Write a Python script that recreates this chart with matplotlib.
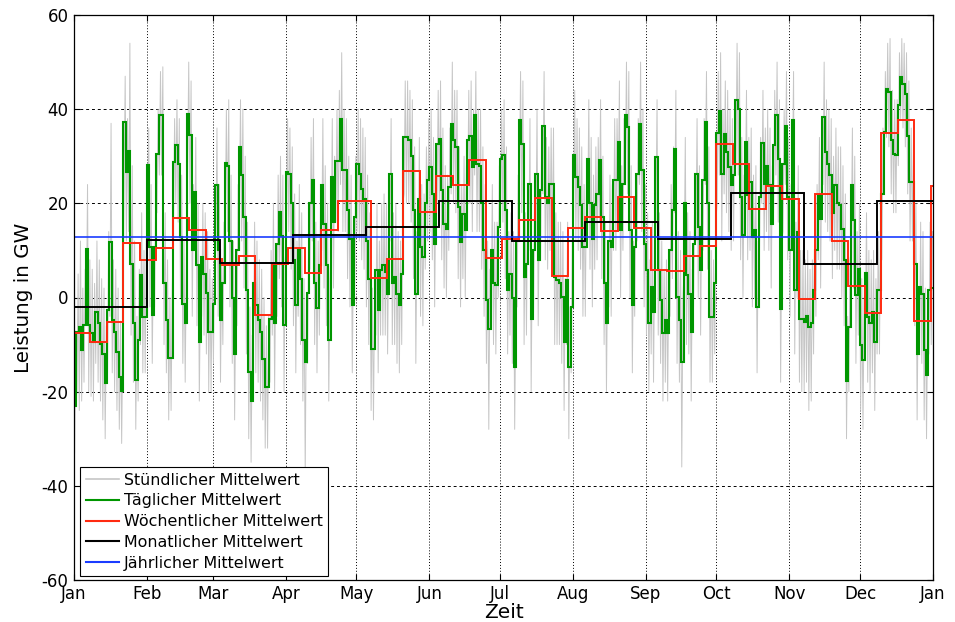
import numpy as np
import matplotlib
matplotlib.use("Agg")
import matplotlib.pyplot as plt
from matplotlib.lines import Line2D

plt.rcParams['font.family'] = ['DejaVu Sans']
plt.rcParams['axes.unicode_minus'] = False

# ---- data (GW) ----
month_labels = ["Jan", "Feb", "Mar", "Apr", "May", "Jun", "Jul", "Aug", "Sep", "Oct", "Nov", "Dec", "Jan"]
month_starts = [0, 31, 59, 90, 120, 151, 181, 212, 243, 273, 304, 334, 365]

daily_mean = [
    -23, -7.3, -6.2, -11.2, -5.9, 10.4, -5.9, -7.6, -9.4, -3,
    -5.5, -9.8, -11.9, -18.2, -2.7, 11.8, -4.8, -7.3, -11.5, -16.8,
    -19.8, 37.2, 26.6, 31.2, 7.2, -5.5, -17.5, -9, 4.7, -4.1,
    -4.1, 28.2, 10.7, -3.7, 10.7, 30.5, 38.7, 38.7, 3, -4.8,
    -12.9, -12.9, 28.8, 32.3, 28.4, 12.9, -1.3, -5.5, 39, 34.5,
    10, 22.4, 7, -9.4, 8.6, 5, 1, -7.3, -7.3, -1.3,
    24, 10, -4.8, 3, 28.5, 28, 12, 0, -11.9, 10,
    32, 26, 17, 1.5, -15.8, -22, 3, -1.6, -4.8, -7.3,
    -13, -19, -19, -4.5, 7, -5.5, 11.4, 18.2, 13, -5.9,
    26.6, 26.3, 20, 8, -1.6, 10, 4, -9, -13.6, 1,
    20, 25, 3, -2.3, 7, 24, 15.7, 7, -9, 25.6,
    16, 29, 29, 38, 27, 27, 18.5, 12.5, -1.6, 17,
    28.4, 26.3, 23, 21, 12, 4, -11, -11, 5.8, -2.7,
    5.8, 7, 5.5, 0.8, 26.3, 3, 4.4, 0.8, -1.6, 5,
    34, 34, 33.5, 30, 18.5, 0.8, 21, 10.7, 8.6, 20,
    25, 27.7, 22, 11.4, 32.6, 33.7, 22.8, 15.7, 14.6, 23.5,
    36.9, 33.4, 32, 19.2, 11.8, 17.8, 14.3, 33.4, 34.4, 27.7,
    38.7, 28.4, 28, 20, 10, -0.6, -6.6, 10, 3, 2.6,
    15, 29.5, 30.2, 18.5, 1.6, 5, 0, -14.8, 12, 37.6,
    32.6, 4.4, 7.2, 24.2, -4.5, 10, 26.3, 7.9, 22.8, 36.5,
    21.3, 20, 24.2, 24.2, 4.4, 3.7, 3, 0.1, -9.4, 3.7,
    -14.8, -2, 30.2, 25.6, 23.5, 19.6, 10.7, 10.7, 29.5, 20,
    12.5, 19.6, 22, 29.1, 17.1, 3, -5.5, 12, 10.7, 24.9,
    24.9, 33, 14.3, 24.2, 38.7, 36.2, 14.3, -1.6, 10.7, 26.3,
    36.9, 27, 11.4, 5.8, -5.5, 2.3, -3, 29.8, 5.8, -0.6,
    -7.6, -4.8, -7.6, 10, 18.5, 31.6, 0.1, -4.8, -13.6, 20,
    4.7, 0.8, -7.3, 11.4, 26.3, 15, 5.8, 24.9, 37.2, 20,
    -4.1, -4.1, 3, 35, 39.7, 26.3, 34.8, 31, 27.7, 24,
    26, 42, 40, 21.3, 13.2, 33, 21.7, 24.5, 12.9, 14.3,
    -2, 21.3, 32.8, 24.2, 28, 24, 15.7, 32.3, 38.7, 29.5,
    -2.5, 28.4, 36.5, 21.3, 10, 37.7, 1.6, 13.9, -4.5, -4.5,
    -5.2, -4, -6.2, -5.5, 1.6, 10, 21.7, 16.7, 38.3, 30.9,
    28.4, 26, 18, 24, 20, 19.6, 14.6, 8, -17.7, -6.2,
    23.8, 16.4, 0.5, 6.1, -10.1, -13.3, 5.1, -4.1, -5.5, -3,
    -9.4, 1.6, 1.6, 22, 35.1, 44.3, 43.6, 33.4, 30.5, 30.2,
    40.8, 46.8, 45.4, 43.3, 34.4, 24.5, 24.5, 7.2, -11.9, 2.3,
    0.8, -11.2, -16.5, 1.6, 2,
]

# highest / lowest hourly value of each day
hourly_high = [
    -8, 5, 12, 2, 6, 24, 8, 6, 3, 12,
    8, 4, 2, -6, 14, 37, 8, 6, 2, -5,
    -8, 47, 38, 54, 28, 12, -4, 6, 18, 10,
    12, 36, 24, 10, 24, 40, 48, 49, 18, 8,
    0, 2, 38, 42, 38, 26, 12, 8, 50, 46,
    24, 34, 20, 4, 20, 18, 14, 6, 4, 12,
    36, 24, 8, 16, 40, 42, 26, 12, 0, 24,
    42, 40, 30, 16, -2, -8, 16, 12, 8, 6,
    0, -6, -4, 10, 20, 8, 26, 30, 26, 8,
    38, 36, 32, 22, 12, 24, 18, 4, 0, 16,
    34, 38, 16, 12, 20, 38, 28, 20, 4, 38,
    30, 40, 44, 52, 40, 38, 30, 26, 12, 30,
    40, 38, 36, 34, 26, 18, 2, 2, 20, 12,
    20, 22, 20, 14, 38, 18, 20, 14, 12, 20,
    46, 46, 44, 42, 32, 14, 34, 24, 22, 32,
    38, 40, 34, 24, 44, 46, 36, 28, 26, 36,
    50, 44, 44, 32, 24, 30, 28, 44, 46, 40,
    48, 40, 40, 32, 24, 12, 6, 24, 16, 16,
    28, 40, 42, 32, 14, 18, 14, -2, 26, 48,
    46, 18, 20, 38, 10, 24, 40, 20, 36, 48,
    34, 32, 36, 36, 18, 16, 16, 14, 4, 16,
    -2, 12, 44, 38, 36, 32, 24, 24, 42, 34,
    26, 32, 34, 42, 30, 16, 8, 26, 24, 38,
    38, 46, 28, 38, 50, 48, 28, 12, 24, 38,
    50, 40, 24, 18, 8, 16, 10, 42, 18, 12,
    6, 8, 6, 24, 32, 44, 14, 10, 0, 34,
    18, 14, 6, 24, 38, 28, 18, 38, 48, 32,
    10, 8, 16, 48, 52, 40, 46, 44, 40, 38,
    40, 54, 52, 34, 26, 44, 34, 36, 26, 28,
    12, 34, 44, 36, 40, 36, 28, 44, 50, 42,
    12, 40, 48, 34, 24, 48, 16, 28, 10, 10,
    8, 10, 6, 8, 16, 24, 34, 30, 50, 42,
    40, 38, 30, 36, 32, 32, 28, 22, -4, 8,
    36, 30, 14, 20, 4, 0, 18, 10, 8, 10,
    4, 14, 16, 36, 48, 54, 55, 44, 42, 42,
    52, 55, 54, 52, 46, 36, 36, 20, 2, 16,
    14, 2, -4, 16, 14,
]
hourly_low = [
    -33, -20, -24, -22, -18, -4, -20, -21, -22, -14,
    -18, -22, -26, -30, -16, -4, -16, -20, -24, -28,
    -31, 22, 12, 14, -8, -18, -28, -22, -10, -16,
    -16, 14, -2, -14, -2, 18, 26, 26, -10, -16,
    -26, -24, 14, 20, 16, 0, -14, -18, 26, 20,
    -4, 10, -6, -22, -4, -8, -12, -20, -20, -14,
    10, -4, -18, -10, 14, 14, -2, -14, -26, -6,
    18, 12, 2, -12, -30, -35, -10, -16, -18, -22,
    -26, -32, -32, -18, -8, -20, -4, 4, -2, -20,
    12, 14, 6, -6, -16, -4, -10, -22, -38, -14,
    6, 12, -10, -16, -8, 10, 2, -6, -22, 10,
    2, 16, 14, 24, 14, 14, 4, -2, -16, 2,
    14, 12, 8, 6, -2, -10, -24, -26, -8, -16,
    -8, -8, -8, -12, 12, -10, -10, -14, -16, -10,
    22, 20, 20, 16, 4, -14, 6, -4, -6, 6,
    12, 14, 8, -2, 20, 20, 8, 2, 0, 10,
    22, 20, 18, 4, -2, 4, 0, 20, 20, 14,
    26, 14, 14, 6, -4, -14, -28, -4, -10, -12,
    0, 16, 16, 4, -12, -8, -14, -28, -2, 24,
    18, -10, -8, 10, -20, -4, 12, -6, 8, 22,
    8, 6, 10, 10, -10, -10, -10, -14, -24, -10,
    -30, -16, 16, 12, 10, 6, -4, -4, 16, 6,
    -2, 6, 8, 16, 4, -10, -20, -2, -4, 10,
    10, 20, 0, 10, 26, 22, 0, -16, -4, 12,
    24, 14, -2, -8, -20, -12, -18, 16, -8, -14,
    -22, -18, -22, -4, 4, 18, -14, -18, -36, 6,
    -10, -12, -22, -2, 12, 0, -8, 10, 24, 6,
    -18, -18, -12, 20, 26, 12, 22, 18, 14, 10,
    12, 28, 26, 8, 0, 20, 8, 10, -2, 0,
    -16, 8, 20, 10, 14, 10, 2, 18, 26, 16,
    -18, 14, 24, 8, -4, 24, -12, 0, -18, -20,
    -20, -18, -24, -22, -12, -4, 8, 2, 24, 16,
    14, 12, 4, 10, 6, 6, 0, -6, -30, -20,
    10, 2, -14, -8, -24, -28, -8, -18, -20, -16,
    -24, -12, -12, 8, 22, 34, 32, 22, 18, 18,
    28, 38, 36, 32, 22, 12, 12, -6, -26, -12,
    -14, -26, -30, -12, -10,
]

weekly_mean = [
    -7.5, -9.4, -5.2, 11.6, 7.9, 10.5, 16.9, 14.4, 8.1, 6.9,
    8.8, -3.7, 7.1, 10.5, 5.1, 14.3, 20.4, 20.4, 4.2, 8.1,
    26.9, 18.2, 25.8, 24.0, 29.1, 8.4, 12.5, 16.4, 21.1, 4.6,
    14.8, 17.1, 14.1, 21.4, 14.8, 5.9, 5.7, 8.8, 10.9, 32.7,
    28.4, 18.9, 23.7, 21.0, -0.4, 22.0, 12.1, 2.4, -3.3, 35.0,
    37.8, -4.9, 23.7,
]

monthly_mean = [-2.0, 12.3, 7.3, 13.2, 15.0, 20.6, 12.0, 16.0, 12.5, 22.2, 7.2, 20.4]

yearly_mean = [12.9]

# ---- colours ----
c_hour = "#c6c6c6"
c_day = "#009600"
c_week = "#ff2a10"
c_month = "black"
c_year = "#1a3cff"

# ---- figure ----
W, H = 955, 622
fig = plt.figure(figsize=(W / 100, H / 100), dpi=100)
ax = fig.add_axes([74 / W, 42 / H, 859 / W, 565 / H])

n_days = len(daily_mean)
day_edges = np.arange(n_days + 1)
week_edges = np.minimum(np.arange(len(weekly_mean) + 1) * 7, n_days)
month_edges = np.minimum(np.arange(len(monthly_mean) + 1) * 31, n_days)

# hourly trace: each day's low and high
hx = (np.arange(n_days)[:, None] + np.array([0.25, 0.75])[None, :]).ravel()
hy = np.column_stack([hourly_low, hourly_high]).ravel()
ax.plot(hx, hy, color=c_hour, lw=0.7, zorder=2)

ax.stairs(daily_mean, day_edges, baseline=None, color=c_day, lw=1.5, zorder=3)
ax.stairs(weekly_mean, week_edges, baseline=None, color=c_week, lw=1.4, zorder=4)
ax.stairs(monthly_mean, month_edges, baseline=None, color=c_month, lw=1.4, zorder=5)
ax.stairs(yearly_mean, [0, n_days], baseline=None, color=c_year, lw=1.2, zorder=6)

ax.set_xlim(0, 365)
ax.set_ylim(-60, 60)
ax.set_xticks(month_starts)
ax.set_xticklabels(month_labels)
ax.set_yticks(np.arange(-60, 61, 20))

for v in month_starts[1:-1]:
    ax.axvline(v, color="black", lw=0.7, ls=(0, (1, 2)), zorder=1)
for v in range(-40, 41, 20):
    ax.axhline(v, color="black", lw=0.7, ls=(0, (3, 3)), zorder=1)

ax.tick_params(direction="in", length=4, top=True, right=True, labelsize=12)
ax.tick_params(axis="x", pad=3.5)
ax.tick_params(axis="y", pad=4)
for s in ax.spines.values():
    s.set_linewidth(0.9)
    s.set_zorder(7)

ax.set_xlabel("Zeit", fontsize=14.6, labelpad=0)
ax.set_ylabel("Leistung in GW", fontsize=14.3, labelpad=6)

handles = [
    Line2D([], [], color=c_hour, lw=1.2),
    Line2D([], [], color=c_day, lw=1.5),
    Line2D([], [], color=c_week, lw=1.5),
    Line2D([], [], color=c_month, lw=1.5),
    Line2D([], [], color=c_year, lw=1.5),
]
labels = ["Stündlicher Mittelwert", "Täglicher Mittelwert", "Wöchentlicher Mittelwert",
          "Monatlicher Mittelwert", "Jährlicher Mittelwert"]
leg = ax.legend(handles, labels, loc="lower left", bbox_to_anchor=(0.007, 0.007),
                borderaxespad=0, fontsize=11.4, frameon=True, fancybox=False,
                edgecolor="black", framealpha=1, handlelength=2.1, handletextpad=0.3,
                labelspacing=0.36, borderpad=0.35)
leg.get_frame().set_linewidth(0.8)
leg.set_zorder(8)

fig.savefig("out.png", dpi=100)
